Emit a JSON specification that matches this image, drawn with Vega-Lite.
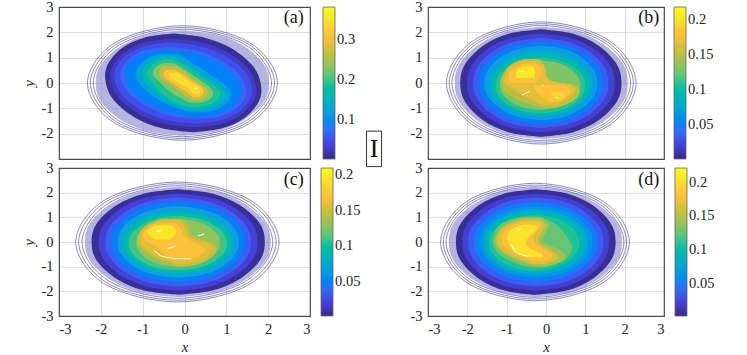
{
"$schema":"https://vega.github.io/schema/vega-lite/v6.json",
"padding":{"left":21,"top":-2,"right":0,"bottom":0},
"background":"white",
"bounds":"flush",
"columns":2,
"spacing":{"column":118,"row":9},
"resolve":{"scale":{"color":"independent"},"legend":{"color":"independent"}},
"config":{"font":"Liberation Serif","view":{"stroke":"#555","strokeWidth":1.2},
"axis":{"labelFont":"Liberation Serif","labelFontSize":14.5,"labelColor":"#222","labelPadding":6,"titleFont":"Liberation Serif","titleFontSize":15,"titleFontStyle":"italic","titleFontWeight":"normal","titleColor":"#222","titlePadding":4,"grid":true,"gridColor":"#000","gridOpacity":0.13,"gridWidth":1,"ticks":false,"domain":false,"zindex":1,"tickCount":7},
"legend":{"gradientThickness":12,"gradientStrokeColor":"#666","gradientStrokeWidth":0.8,"labelFont":"Liberation Serif","labelFontSize":14.5,"labelColor":"#222","offset":13,"padding":0,"title":null,"orient":"right","labelOffset":4}},
"datasets":{
"ra":[{"r":1,"i":0,"x":2.22,"y":0},{"r":1,"i":1,"x":1.55,"y":1.6},{"r":1,"i":2,"x":-0.05,"y":2.26},{"r":1,"i":3,"x":-1.65,"y":1.6},{"r":1,"i":4,"x":-2.32,"y":0},{"r":1,"i":5,"x":-1.65,"y":-1.6},{"r":1,"i":6,"x":-0.05,"y":-2.26},{"r":1,"i":7,"x":1.55,"y":-1.6},
{"r":2,"i":0,"x":2.15,"y":0},{"r":2,"i":1,"x":1.51,"y":1.55},{"r":2,"i":2,"x":-0.05,"y":2.19},{"r":2,"i":3,"x":-1.61,"y":1.55},{"r":2,"i":4,"x":-2.25,"y":0},{"r":2,"i":5,"x":-1.61,"y":-1.55},{"r":2,"i":6,"x":-0.05,"y":-2.19},{"r":2,"i":7,"x":1.51,"y":-1.55},
{"r":3,"i":0,"x":2.08,"y":0},{"r":3,"i":1,"x":1.46,"y":1.5},{"r":3,"i":2,"x":-0.05,"y":2.12},{"r":3,"i":3,"x":-1.56,"y":1.5},{"r":3,"i":4,"x":-2.18,"y":0},{"r":3,"i":5,"x":-1.56,"y":-1.5},{"r":3,"i":6,"x":-0.05,"y":-2.12},{"r":3,"i":7,"x":1.46,"y":-1.5}],
"rb":[{"r":1,"i":0,"x":2.29,"y":0},{"r":1,"i":1,"x":1.58,"y":1.7},{"r":1,"i":2,"x":-0.12,"y":2.41},{"r":1,"i":3,"x":-1.82,"y":1.7},{"r":1,"i":4,"x":-2.53,"y":0},{"r":1,"i":5,"x":-1.82,"y":-1.7},{"r":1,"i":6,"x":-0.12,"y":-2.41},{"r":1,"i":7,"x":1.58,"y":-1.7},
{"r":2,"i":0,"x":2.22,"y":0},{"r":2,"i":1,"x":1.53,"y":1.65},{"r":2,"i":2,"x":-0.12,"y":2.34},{"r":2,"i":3,"x":-1.77,"y":1.65},{"r":2,"i":4,"x":-2.46,"y":0},{"r":2,"i":5,"x":-1.77,"y":-1.65},{"r":2,"i":6,"x":-0.12,"y":-2.34},{"r":2,"i":7,"x":1.53,"y":-1.65},
{"r":3,"i":0,"x":2.15,"y":0},{"r":3,"i":1,"x":1.48,"y":1.6},{"r":3,"i":2,"x":-0.12,"y":2.27},{"r":3,"i":3,"x":-1.72,"y":1.6},{"r":3,"i":4,"x":-2.39,"y":0},{"r":3,"i":5,"x":-1.72,"y":-1.6},{"r":3,"i":6,"x":-0.12,"y":-2.27},{"r":3,"i":7,"x":1.48,"y":-1.6}],
"rc":[{"r":1,"i":0,"x":2.26,"y":0},{"r":1,"i":1,"x":1.55,"y":1.72},{"r":1,"i":2,"x":-0.17,"y":2.43},{"r":1,"i":3,"x":-1.89,"y":1.72},{"r":1,"i":4,"x":-2.6,"y":0},{"r":1,"i":5,"x":-1.89,"y":-1.72},{"r":1,"i":6,"x":-0.17,"y":-2.43},{"r":1,"i":7,"x":1.55,"y":-1.72},
{"r":2,"i":0,"x":2.19,"y":0},{"r":2,"i":1,"x":1.5,"y":1.67},{"r":2,"i":2,"x":-0.17,"y":2.36},{"r":2,"i":3,"x":-1.84,"y":1.67},{"r":2,"i":4,"x":-2.53,"y":0},{"r":2,"i":5,"x":-1.84,"y":-1.67},{"r":2,"i":6,"x":-0.17,"y":-2.36},{"r":2,"i":7,"x":1.5,"y":-1.67},
{"r":3,"i":0,"x":2.11,"y":0},{"r":3,"i":1,"x":1.44,"y":1.61},{"r":3,"i":2,"x":-0.17,"y":2.28},{"r":3,"i":3,"x":-1.78,"y":1.61},{"r":3,"i":4,"x":-2.45,"y":0},{"r":3,"i":5,"x":-1.78,"y":-1.61},{"r":3,"i":6,"x":-0.17,"y":-2.28},{"r":3,"i":7,"x":1.44,"y":-1.61}],
"rd":[{"r":1,"i":0,"x":2.12,"y":0},{"r":1,"i":1,"x":1.42,"y":1.68},{"r":1,"i":2,"x":-0.28,"y":2.38},{"r":1,"i":3,"x":-1.98,"y":1.68},{"r":1,"i":4,"x":-2.68,"y":0},{"r":1,"i":5,"x":-1.98,"y":-1.68},{"r":1,"i":6,"x":-0.28,"y":-2.38},{"r":1,"i":7,"x":1.42,"y":-1.68},
{"r":2,"i":0,"x":2.05,"y":0},{"r":2,"i":1,"x":1.37,"y":1.63},{"r":2,"i":2,"x":-0.28,"y":2.31},{"r":2,"i":3,"x":-1.93,"y":1.63},{"r":2,"i":4,"x":-2.61,"y":0},{"r":2,"i":5,"x":-1.93,"y":-1.63},{"r":2,"i":6,"x":-0.28,"y":-2.31},{"r":2,"i":7,"x":1.37,"y":-1.63},
{"r":3,"i":0,"x":1.98,"y":0},{"r":3,"i":1,"x":1.32,"y":1.58},{"r":3,"i":2,"x":-0.28,"y":2.24},{"r":3,"i":3,"x":-1.88,"y":1.58},{"r":3,"i":4,"x":-2.54,"y":0},{"r":3,"i":5,"x":-1.88,"y":-1.58},{"r":3,"i":6,"x":-0.28,"y":-2.24},{"r":3,"i":7,"x":1.32,"y":-1.58}],
"ha":[{"y":2.08,"a":-0.05,"b":-0.05},{"y":1.91,"a":-0.86,"b":0.76},{"y":1.46,"a":-1.52,"b":1.42},{"y":0.73,"a":-2.0,"b":1.9},{"y":0,"a":-2.12,"b":2.02},{"y":-0.73,"a":-2.0,"b":1.9},{"y":-1.46,"a":-1.52,"b":1.42},{"y":-1.91,"a":-0.86,"b":0.76},{"y":-2.08,"a":-0.05,"b":-0.05}],
"hb":[{"y":2.22,"a":-0.12,"b":-0.12},{"y":2.04,"a":-0.98,"b":0.74},{"y":1.55,"a":-1.68,"b":1.44},{"y":0.78,"a":-2.19,"b":1.95},{"y":0,"a":-2.32,"b":2.08},{"y":-0.78,"a":-2.19,"b":1.95},{"y":-1.55,"a":-1.68,"b":1.44},{"y":-2.04,"a":-0.98,"b":0.74},{"y":-2.22,"a":-0.12,"b":-0.12}],
"hc":[{"y":2.24,"a":-0.16,"b":-0.16},{"y":2.06,"a":-1.03,"b":0.71},{"y":1.57,"a":-1.74,"b":1.42},{"y":0.78,"a":-2.25,"b":1.93},{"y":0,"a":-2.38,"b":2.06},{"y":-0.78,"a":-2.25,"b":1.93},{"y":-1.57,"a":-1.74,"b":1.42},{"y":-2.06,"a":-1.03,"b":0.71},{"y":-2.24,"a":-0.16,"b":-0.16}],
"hd":[{"y":2.22,"a":-0.27,"b":-0.27},{"y":2.04,"a":-1.13,"b":0.59},{"y":1.55,"a":-1.83,"b":1.29},{"y":0.78,"a":-2.34,"b":1.8},{"y":0,"a":-2.47,"b":1.93},{"y":-0.78,"a":-2.34,"b":1.8},{"y":-1.55,"a":-1.83,"b":1.29},{"y":-2.04,"a":-1.13,"b":0.59},{"y":-2.22,"a":-0.27,"b":-0.27}],
"wa":[{"k":1,"x":0.24,"y":-0.21},{"k":1,"x":0.3,"y":-0.2}],
"wb":[{"k":1,"x":-0.64,"y":0.44},{"k":1,"x":-0.58,"y":0.47},{"k":2,"x":-0.61,"y":-0.48},{"k":2,"x":-0.42,"y":-0.33},{"k":3,"x":-0.1,"y":-0.09},{"k":3,"x":-0.06,"y":-0.09},{"k":4,"x":0.25,"y":-0.59},{"k":4,"x":0.31,"y":-0.56}],
"wc":[{"k":1,"x":-0.68,"y":0.42},{"k":1,"x":-0.55,"y":0.48},{"k":2,"x":0.32,"y":0.24},{"k":2,"x":0.48,"y":0.33},{"k":3,"x":-0.72,"y":-0.36},{"k":3,"x":-0.56,"y":-0.57},{"k":3,"x":-0.24,"y":-0.68},{"k":3,"x":0.16,"y":-0.68},{"k":4,"x":-0.4,"y":-0.26},{"k":4,"x":-0.24,"y":-0.18}],
"wd":[{"k":1,"x":-0.72,"y":0.5},{"k":1,"x":-0.64,"y":0.53},{"k":2,"x":-0.89,"y":-0.11},{"k":2,"x":-0.8,"y":-0.38},{"k":2,"x":-0.64,"y":-0.51},{"k":2,"x":-0.47,"y":-0.58}],
"a":[
{"l":0.01,"y":1.95,"a":-0.26,"b":-0.26},{"l":0.01,"y":1.79,"a":-0.96,"b":0.48},{"l":0.01,"y":1.37,"a":-1.5,"b":1.12},{"l":0.01,"y":0.68,"a":-1.85,"b":1.63},{"l":0.01,"y":0,"a":-1.88,"b":1.82},{"l":0.01,"y":-0.68,"a":-1.69,"b":1.79},{"l":0.01,"y":-1.37,"a":-1.18,"b":1.44},{"l":0.01,"y":-1.79,"a":-0.54,"b":0.9},{"l":0.01,"y":-1.95,"a":0.2,"b":0.2},
{"l":0.03,"y":1.75,"a":-0.29,"b":-0.29},{"l":0.03,"y":1.61,"a":-0.94,"b":0.4},{"l":0.03,"y":1.23,"a":-1.43,"b":1.01},{"l":0.03,"y":0.61,"a":-1.74,"b":1.5},{"l":0.03,"y":0,"a":-1.75,"b":1.69},{"l":0.03,"y":-0.61,"a":-1.56,"b":1.68},{"l":0.03,"y":-1.23,"a":-1.07,"b":1.37},{"l":0.03,"y":-1.61,"a":-0.46,"b":0.88},{"l":0.03,"y":-1.75,"a":0.23,"b":0.23},
{"l":0.05,"y":1.6,"a":-0.32,"b":-0.32},{"l":0.05,"y":1.47,"a":-0.92,"b":0.34},{"l":0.05,"y":1.12,"a":-1.38,"b":0.92},{"l":0.05,"y":0.56,"a":-1.65,"b":1.39},{"l":0.05,"y":0,"a":-1.65,"b":1.59},{"l":0.05,"y":-0.56,"a":-1.45,"b":1.59},{"l":0.05,"y":-1.12,"a":-0.98,"b":1.32},{"l":0.05,"y":-1.47,"a":-0.4,"b":0.86},{"l":0.05,"y":-1.6,"a":0.26,"b":0.26},
{"l":0.07,"y":1.42,"a":-0.37,"b":-0.37},{"l":0.07,"y":1.31,"a":-0.91,"b":0.23},{"l":0.07,"y":0.99,"a":-1.31,"b":0.77},{"l":0.07,"y":0.5,"a":-1.52,"b":1.22},{"l":0.07,"y":0,"a":-1.49,"b":1.43},{"l":0.07,"y":-0.5,"a":-1.28,"b":1.46},{"l":0.07,"y":-0.99,"a":-0.83,"b":1.25},{"l":0.07,"y":-1.31,"a":-0.29,"b":0.85},{"l":0.07,"y":-1.42,"a":0.31,"b":0.31},
{"l":0.09,"y":1.3,"a":-0.39,"b":-0.39},{"l":0.09,"y":1.2,"a":-0.89,"b":0.15},{"l":0.09,"y":0.91,"a":-1.22,"b":0.66},{"l":0.09,"y":0.46,"a":-1.41,"b":1.09},{"l":0.09,"y":0,"a":-1.36,"b":1.3},{"l":0.09,"y":-0.46,"a":-1.15,"b":1.35},{"l":0.09,"y":-0.91,"a":-0.72,"b":1.16},{"l":0.09,"y":-1.2,"a":-0.21,"b":0.83},{"l":0.09,"y":-1.3,"a":0.33,"b":0.33},
{"l":0.13,"y":1.15,"a":-0.5,"b":-0.2},{"l":0.13,"y":1.05,"a":-0.85,"b":-0.02},{"l":0.13,"y":0.6,"a":-1.15,"b":0.35},{"l":0.13,"y":0.2,"a":-1.2,"b":0.75},{"l":0.13,"y":-0.2,"a":-1.0,"b":1.1},{"l":0.13,"y":-0.6,"a":-0.7,"b":1.15},{"l":0.13,"y":-1.05,"a":-0.15,"b":0.85},{"l":0.13,"y":-1.15,"a":0.2,"b":0.5},
{"l":0.16,"y":1.03,"a":-0.5,"b":-0.25},{"l":0.16,"y":0.95,"a":-0.75,"b":-0.1},{"l":0.16,"y":0.6,"a":-1.02,"b":0.2},{"l":0.16,"y":0.2,"a":-1.05,"b":0.55},{"l":0.16,"y":-0.2,"a":-0.8,"b":0.95},{"l":0.16,"y":-0.6,"a":-0.55,"b":1.0},{"l":0.16,"y":-0.95,"a":-0.1,"b":0.75},{"l":0.16,"y":-1.05,"a":0.15,"b":0.4},
{"l":0.19,"y":0.93,"a":-0.45,"b":-0.35},{"l":0.19,"y":0.87,"a":-0.64,"b":-0.16},{"l":0.19,"y":0.6,"a":-0.88,"b":0.1},{"l":0.19,"y":0.3,"a":-0.94,"b":0.35},{"l":0.19,"y":0,"a":-0.75,"b":0.62},{"l":0.19,"y":-0.3,"a":-0.65,"b":0.88},{"l":0.19,"y":-0.6,"a":-0.4,"b":0.85},{"l":0.19,"y":-0.85,"a":-0.1,"b":0.65},{"l":0.19,"y":-0.95,"a":0.1,"b":0.35},
{"l":0.23,"y":0.78,"a":-0.5,"b":-0.25},{"l":0.23,"y":0.65,"a":-0.72,"b":-0.1},{"l":0.23,"y":0.3,"a":-0.8,"b":0.2},{"l":0.23,"y":0,"a":-0.55,"b":0.48},{"l":0.23,"y":-0.3,"a":-0.4,"b":0.72},{"l":0.23,"y":-0.6,"a":-0.1,"b":0.68},{"l":0.23,"y":-0.78,"a":0.15,"b":0.4},
{"l":0.27,"y":0.65,"a":-0.5,"b":-0.2},{"l":0.27,"y":0.5,"a":-0.62,"b":-0.02},{"l":0.27,"y":0.2,"a":-0.6,"b":0.15},{"l":0.27,"y":0,"a":-0.4,"b":0.35},{"l":0.27,"y":-0.2,"a":-0.2,"b":0.55},{"l":0.27,"y":-0.5,"a":0,"b":0.58},{"l":0.27,"y":-0.68,"a":0.2,"b":0.4},
{"l":0.31,"y":0.52,"a":-0.45,"b":-0.2},{"l":0.31,"y":0.3,"a":-0.55,"b":0},{"l":0.31,"y":0.1,"a":-0.4,"b":0.15},{"l":0.31,"y":-0.1,"a":-0.2,"b":0.4},{"l":0.31,"y":-0.35,"a":0.05,"b":0.5},{"l":0.31,"y":-0.55,"a":0.2,"b":0.38},
{"l":0.345,"y":0.4,"a":-0.35,"b":-0.15},{"l":0.345,"y":0.25,"a":-0.4,"b":-0.05},{"l":0.345,"y":0.05,"a":-0.2,"b":0.1},{"l":0.345,"y":-0.15,"a":0.05,"b":0.38},{"l":0.345,"y":-0.35,"a":0.15,"b":0.4},{"l":0.345,"y":-0.45,"a":0.25,"b":0.33}],
"b":[
{"l":0.006,"y":2.12,"a":-0.13,"b":-0.13},{"l":0.006,"y":1.95,"a":-0.93,"b":0.67},{"l":0.006,"y":1.48,"a":-1.59,"b":1.33},{"l":0.006,"y":0.74,"a":-2.06,"b":1.8},{"l":0.006,"y":0,"a":-2.18,"b":1.92},{"l":0.006,"y":-0.74,"a":-2.06,"b":1.8},{"l":0.006,"y":-1.48,"a":-1.59,"b":1.33},{"l":0.006,"y":-1.95,"a":-0.93,"b":0.67},{"l":0.006,"y":-2.12,"a":-0.13,"b":-0.13},
{"l":0.02,"y":1.95,"a":-0.13,"b":-0.13},{"l":0.02,"y":1.79,"a":-0.86,"b":0.6},{"l":0.02,"y":1.37,"a":-1.46,"b":1.2},{"l":0.02,"y":0.68,"a":-1.9,"b":1.64},{"l":0.02,"y":0,"a":-2.01,"b":1.75},{"l":0.02,"y":-0.68,"a":-1.9,"b":1.64},{"l":0.02,"y":-1.37,"a":-1.46,"b":1.2},{"l":0.02,"y":-1.79,"a":-0.86,"b":0.6},{"l":0.02,"y":-1.95,"a":-0.13,"b":-0.13},
{"l":0.035,"y":1.78,"a":-0.13,"b":-0.13},{"l":0.035,"y":1.64,"a":-0.8,"b":0.54},{"l":0.035,"y":1.25,"a":-1.35,"b":1.09},{"l":0.035,"y":0.62,"a":-1.75,"b":1.49},{"l":0.035,"y":0,"a":-1.85,"b":1.59},{"l":0.035,"y":-0.62,"a":-1.75,"b":1.49},{"l":0.035,"y":-1.25,"a":-1.35,"b":1.09},{"l":0.035,"y":-1.64,"a":-0.8,"b":0.54},{"l":0.035,"y":-1.78,"a":-0.13,"b":-0.13},
{"l":0.05,"y":1.62,"a":-0.13,"b":-0.13},{"l":0.05,"y":1.49,"a":-0.74,"b":0.48},{"l":0.05,"y":1.13,"a":-1.24,"b":0.98},{"l":0.05,"y":0.57,"a":-1.61,"b":1.35},{"l":0.05,"y":0,"a":-1.7,"b":1.44},{"l":0.05,"y":-0.57,"a":-1.61,"b":1.35},{"l":0.05,"y":-1.13,"a":-1.24,"b":0.98},{"l":0.05,"y":-1.49,"a":-0.74,"b":0.48},{"l":0.05,"y":-1.62,"a":-0.13,"b":-0.13},
{"l":0.065,"y":1.47,"a":-0.13,"b":-0.13},{"l":0.065,"y":1.35,"a":-0.69,"b":0.43},{"l":0.065,"y":1.03,"a":-1.15,"b":0.89},{"l":0.065,"y":0.51,"a":-1.48,"b":1.22},{"l":0.065,"y":0,"a":-1.57,"b":1.31},{"l":0.065,"y":-0.51,"a":-1.48,"b":1.22},{"l":0.065,"y":-1.03,"a":-1.15,"b":0.89},{"l":0.065,"y":-1.35,"a":-0.69,"b":0.43},{"l":0.065,"y":-1.47,"a":-0.13,"b":-0.13},
{"l":0.08,"y":1.3,"a":-0.13,"b":-0.13},{"l":0.08,"y":1.19,"a":-0.65,"b":0.39},{"l":0.08,"y":0.9,"a":-1.07,"b":0.81},{"l":0.08,"y":0.44,"a":-1.38,"b":1.12},{"l":0.08,"y":-0.03,"a":-1.46,"b":1.2},{"l":0.08,"y":-0.5,"a":-1.38,"b":1.12},{"l":0.08,"y":-0.96,"a":-1.07,"b":0.81},{"l":0.08,"y":-1.25,"a":-0.65,"b":0.39},{"l":0.08,"y":-1.36,"a":-0.13,"b":-0.13},
{"l":0.095,"y":1.16,"a":-0.13,"b":-0.13},{"l":0.095,"y":1.06,"a":-0.61,"b":0.35},{"l":0.095,"y":0.79,"a":-1.01,"b":0.75},{"l":0.095,"y":0.37,"a":-1.3,"b":1.04},{"l":0.095,"y":-0.06,"a":-1.37,"b":1.11},{"l":0.095,"y":-0.49,"a":-1.3,"b":1.04},{"l":0.095,"y":-0.91,"a":-1.01,"b":0.75},{"l":0.095,"y":-1.18,"a":-0.61,"b":0.35},{"l":0.095,"y":-1.28,"a":-0.13,"b":-0.13},
{"l":0.11,"y":1.0,"a":-0.14,"b":-0.14},{"l":0.11,"y":0.91,"a":-0.58,"b":0.3},{"l":0.11,"y":0.67,"a":-0.95,"b":0.67},{"l":0.11,"y":0.29,"a":-1.21,"b":0.93},{"l":0.11,"y":-0.1,"a":-1.28,"b":1.0},{"l":0.11,"y":-0.49,"a":-1.21,"b":0.93},{"l":0.11,"y":-0.87,"a":-0.95,"b":0.67},{"l":0.11,"y":-1.11,"a":-0.58,"b":0.3},{"l":0.11,"y":-1.2,"a":-0.14,"b":-0.14},
{"l":0.13,"y":0.9,"a":-0.15,"b":-0.15},{"l":0.13,"y":0.81,"a":-0.55,"b":0.25},{"l":0.13,"y":0.61,"a":-0.87,"b":0.57},{"l":0.13,"y":0.26,"a":-1.11,"b":0.81},{"l":0.13,"y":-0.08,"a":-1.17,"b":0.87},{"l":0.13,"y":-0.42,"a":-1.11,"b":0.81},{"l":0.13,"y":-0.77,"a":-0.87,"b":0.57},{"l":0.13,"y":-0.98,"a":-0.55,"b":0.25},{"l":0.13,"y":-1.06,"a":-0.15,"b":-0.15},
{"l":0.15,"y":0.95,"a":-0.55,"b":-0.2},{"l":0.15,"y":0.8,"a":-0.88,"b":-0.02},{"l":0.15,"y":0.4,"a":-1.1,"b":0.02},{"l":0.15,"y":0.03,"a":-1.17,"b":0.03},{"l":0.15,"y":-0.02,"a":-1.15,"b":0.82},{"l":0.15,"y":-0.4,"a":-1.05,"b":0.9},{"l":0.15,"y":-0.75,"a":-0.65,"b":0.72},{"l":0.15,"y":-0.98,"a":-0.1,"b":0.25},
{"l":0.165,"y":0.88,"a":-0.55,"b":-0.2},{"l":0.165,"y":0.7,"a":-0.92,"b":-0.03},{"l":0.165,"y":0.4,"a":-1.04,"b":0},{"l":0.165,"y":0.02,"a":-1.08,"b":0},{"l":0.165,"y":-0.02,"a":-1.02,"b":0.72},{"l":0.165,"y":-0.3,"a":-0.82,"b":0.78},{"l":0.165,"y":-0.6,"a":-0.45,"b":0.62},{"l":0.165,"y":-0.88,"a":-0.1,"b":0.25},
{"l":0.178,"p":1,"y":0.78,"a":-0.55,"b":-0.25},{"l":0.178,"p":1,"y":0.55,"a":-0.9,"b":-0.1},{"l":0.178,"p":1,"y":0.25,"a":-0.97,"b":-0.12},{"l":0.178,"p":1,"y":0,"a":-0.9,"b":-0.3},
{"l":0.178,"p":2,"y":-0.08,"a":-0.3,"b":0.5},{"l":0.178,"p":2,"y":-0.3,"a":-0.3,"b":0.68},{"l":0.178,"p":2,"y":-0.55,"a":-0.1,"b":0.55},{"l":0.178,"p":2,"y":-0.75,"a":0.1,"b":0.3},
{"l":0.205,"p":1,"y":0.65,"a":-0.6,"b":-0.35},{"l":0.205,"p":1,"y":0.45,"a":-0.8,"b":-0.25},{"l":0.205,"p":1,"y":0.2,"a":-0.75,"b":-0.3},
{"l":0.19,"p":2,"y":-0.35,"a":0.1,"b":0.4},{"l":0.19,"p":2,"y":-0.5,"a":0.15,"b":0.5},{"l":0.19,"p":2,"y":-0.65,"a":0.25,"b":0.4}],
"c":[
{"l":0.006,"y":2.14,"a":-0.15,"b":-0.15},{"l":0.006,"y":1.97,"a":-0.96,"b":0.66},{"l":0.006,"y":1.5,"a":-1.62,"b":1.32},{"l":0.006,"y":0.75,"a":-2.1,"b":1.8},{"l":0.006,"y":0,"a":-2.22,"b":1.92},{"l":0.006,"y":-0.75,"a":-2.1,"b":1.8},{"l":0.006,"y":-1.5,"a":-1.62,"b":1.32},{"l":0.006,"y":-1.97,"a":-0.96,"b":0.66},{"l":0.006,"y":-2.14,"a":-0.15,"b":-0.15},
{"l":0.02,"y":1.97,"a":-0.15,"b":-0.15},{"l":0.02,"y":1.81,"a":-0.89,"b":0.59},{"l":0.02,"y":1.38,"a":-1.5,"b":1.2},{"l":0.02,"y":0.69,"a":-1.94,"b":1.64},{"l":0.02,"y":0,"a":-2.05,"b":1.75},{"l":0.02,"y":-0.69,"a":-1.94,"b":1.64},{"l":0.02,"y":-1.38,"a":-1.5,"b":1.2},{"l":0.02,"y":-1.81,"a":-0.89,"b":0.59},{"l":0.02,"y":-1.97,"a":-0.15,"b":-0.15},
{"l":0.035,"y":1.8,"a":-0.15,"b":-0.15},{"l":0.035,"y":1.66,"a":-0.83,"b":0.53},{"l":0.035,"y":1.26,"a":-1.39,"b":1.09},{"l":0.035,"y":0.63,"a":-1.79,"b":1.49},{"l":0.035,"y":0,"a":-1.89,"b":1.59},{"l":0.035,"y":-0.63,"a":-1.79,"b":1.49},{"l":0.035,"y":-1.26,"a":-1.39,"b":1.09},{"l":0.035,"y":-1.66,"a":-0.83,"b":0.53},{"l":0.035,"y":-1.8,"a":-0.15,"b":-0.15},
{"l":0.05,"y":1.62,"a":-0.15,"b":-0.15},{"l":0.05,"y":1.49,"a":-0.77,"b":0.47},{"l":0.05,"y":1.13,"a":-1.27,"b":0.97},{"l":0.05,"y":0.57,"a":-1.64,"b":1.34},{"l":0.05,"y":0,"a":-1.73,"b":1.43},{"l":0.05,"y":-0.57,"a":-1.64,"b":1.34},{"l":0.05,"y":-1.13,"a":-1.27,"b":0.97},{"l":0.05,"y":-1.49,"a":-0.77,"b":0.47},{"l":0.05,"y":-1.62,"a":-0.15,"b":-0.15},
{"l":0.065,"y":1.45,"a":-0.15,"b":-0.15},{"l":0.065,"y":1.33,"a":-0.72,"b":0.42},{"l":0.065,"y":1.02,"a":-1.18,"b":0.88},{"l":0.065,"y":0.51,"a":-1.51,"b":1.21},{"l":0.065,"y":0,"a":-1.6,"b":1.3},{"l":0.065,"y":-0.51,"a":-1.51,"b":1.21},{"l":0.065,"y":-1.02,"a":-1.18,"b":0.88},{"l":0.065,"y":-1.33,"a":-0.72,"b":0.42},{"l":0.065,"y":-1.45,"a":-0.15,"b":-0.15},
{"l":0.08,"y":1.31,"a":-0.16,"b":-0.16},{"l":0.08,"y":1.2,"a":-0.69,"b":0.37},{"l":0.08,"y":0.91,"a":-1.12,"b":0.8},{"l":0.08,"y":0.45,"a":-1.43,"b":1.11},{"l":0.08,"y":-0.02,"a":-1.51,"b":1.19},{"l":0.08,"y":-0.49,"a":-1.43,"b":1.11},{"l":0.08,"y":-0.95,"a":-1.12,"b":0.8},{"l":0.08,"y":-1.24,"a":-0.69,"b":0.37},{"l":0.08,"y":-1.35,"a":-0.16,"b":-0.16},
{"l":0.095,"y":1.18,"a":-0.16,"b":-0.16},{"l":0.095,"y":1.08,"a":-0.66,"b":0.34},{"l":0.095,"y":0.81,"a":-1.06,"b":0.74},{"l":0.095,"y":0.39,"a":-1.35,"b":1.03},{"l":0.095,"y":-0.04,"a":-1.43,"b":1.11},{"l":0.095,"y":-0.47,"a":-1.35,"b":1.03},{"l":0.095,"y":-0.89,"a":-1.06,"b":0.74},{"l":0.095,"y":-1.16,"a":-0.66,"b":0.34},{"l":0.095,"y":-1.26,"a":-0.16,"b":-0.16},
{"l":0.11,"y":1.05,"a":-0.16,"b":-0.16},{"l":0.11,"y":0.96,"a":-0.62,"b":0.3},{"l":0.11,"y":0.72,"a":-0.99,"b":0.67},{"l":0.11,"y":0.34,"a":-1.26,"b":0.94},{"l":0.11,"y":-0.05,"a":-1.33,"b":1.01},{"l":0.11,"y":-0.44,"a":-1.26,"b":0.94},{"l":0.11,"y":-0.82,"a":-0.99,"b":0.67},{"l":0.11,"y":-1.06,"a":-0.62,"b":0.3},{"l":0.11,"y":-1.15,"a":-0.16,"b":-0.16},
{"l":0.13,"y":0.94,"a":-0.15,"b":-0.15},{"l":0.13,"y":0.86,"a":-0.54,"b":0.24},{"l":0.13,"y":0.65,"a":-0.86,"b":0.56},{"l":0.13,"y":0.3,"a":-1.09,"b":0.79},{"l":0.13,"y":-0.04,"a":-1.15,"b":0.85},{"l":0.13,"y":-0.38,"a":-1.09,"b":0.79},{"l":0.13,"y":-0.73,"a":-0.86,"b":0.56},{"l":0.13,"y":-0.94,"a":-0.54,"b":0.24},{"l":0.13,"y":-1.02,"a":-0.15,"b":-0.15},
{"l":0.148,"y":0.93,"a":-0.55,"b":-0.1},{"l":0.148,"y":0.75,"a":-0.9,"b":0.1},{"l":0.148,"y":0.45,"a":-1.07,"b":0.12},{"l":0.148,"y":0.2,"a":-1.13,"b":0.15},{"l":0.148,"y":0.05,"a":-1.15,"b":0.65},{"l":0.148,"y":-0.2,"a":-1.1,"b":0.8},{"l":0.148,"y":-0.55,"a":-0.85,"b":0.72},{"l":0.148,"y":-0.85,"a":-0.45,"b":0.45},{"l":0.148,"y":-0.98,"a":-0.15,"b":0.1},
{"l":0.158,"y":0.88,"a":-0.55,"b":-0.12},{"l":0.158,"y":0.7,"a":-0.85,"b":0},{"l":0.158,"y":0.4,"a":-1.02,"b":0.05},{"l":0.158,"y":0.15,"a":-1.08,"b":0.05},{"l":0.158,"y":0.05,"a":-1.08,"b":0.45},{"l":0.158,"y":-0.15,"a":-1.03,"b":0.7},{"l":0.158,"y":-0.5,"a":-0.78,"b":0.62},{"l":0.158,"y":-0.78,"a":-0.4,"b":0.38},{"l":0.158,"y":-0.9,"a":-0.15,"b":0.05},
{"l":0.172,"y":0.75,"a":-0.7,"b":-0.2},{"l":0.172,"y":0.5,"a":-0.98,"b":-0.05},{"l":0.172,"y":0.2,"a":-1.0,"b":-0.05},{"l":0.172,"y":0,"a":-0.95,"b":0.2},{"l":0.172,"y":-0.2,"a":-0.6,"b":0.5},{"l":0.172,"y":-0.45,"a":-0.55,"b":0.5},{"l":0.172,"y":-0.68,"a":-0.3,"b":0.25},
{"l":0.195,"y":0.68,"a":-0.65,"b":-0.3},{"l":0.195,"y":0.5,"a":-0.9,"b":-0.2},{"l":0.195,"y":0.3,"a":-0.9,"b":-0.2},{"l":0.195,"y":0.1,"a":-0.7,"b":-0.35}],
"d":[
{"l":0.006,"y":2.14,"a":-0.26,"b":-0.26},{"l":0.006,"y":1.97,"a":-1.05,"b":0.53},{"l":0.006,"y":1.5,"a":-1.7,"b":1.18},{"l":0.006,"y":0.75,"a":-2.17,"b":1.65},{"l":0.006,"y":0,"a":-2.29,"b":1.77},{"l":0.006,"y":-0.75,"a":-2.17,"b":1.65},{"l":0.006,"y":-1.5,"a":-1.7,"b":1.18},{"l":0.006,"y":-1.97,"a":-1.05,"b":0.53},{"l":0.006,"y":-2.14,"a":-0.26,"b":-0.26},
{"l":0.02,"y":1.97,"a":-0.26,"b":-0.26},{"l":0.02,"y":1.81,"a":-0.99,"b":0.47},{"l":0.02,"y":1.38,"a":-1.59,"b":1.07},{"l":0.02,"y":0.69,"a":-2.02,"b":1.5},{"l":0.02,"y":0,"a":-2.13,"b":1.61},{"l":0.02,"y":-0.69,"a":-2.02,"b":1.5},{"l":0.02,"y":-1.38,"a":-1.59,"b":1.07},{"l":0.02,"y":-1.81,"a":-0.99,"b":0.47},{"l":0.02,"y":-1.97,"a":-0.26,"b":-0.26},
{"l":0.035,"y":1.8,"a":-0.26,"b":-0.26},{"l":0.035,"y":1.66,"a":-0.93,"b":0.41},{"l":0.035,"y":1.26,"a":-1.48,"b":0.96},{"l":0.035,"y":0.63,"a":-1.88,"b":1.36},{"l":0.035,"y":0,"a":-1.98,"b":1.46},{"l":0.035,"y":-0.63,"a":-1.88,"b":1.36},{"l":0.035,"y":-1.26,"a":-1.48,"b":0.96},{"l":0.035,"y":-1.66,"a":-0.93,"b":0.41},{"l":0.035,"y":-1.8,"a":-0.26,"b":-0.26},
{"l":0.05,"y":1.62,"a":-0.26,"b":-0.26},{"l":0.05,"y":1.49,"a":-0.87,"b":0.35},{"l":0.05,"y":1.13,"a":-1.37,"b":0.85},{"l":0.05,"y":0.57,"a":-1.74,"b":1.22},{"l":0.05,"y":0,"a":-1.83,"b":1.31},{"l":0.05,"y":-0.57,"a":-1.74,"b":1.22},{"l":0.05,"y":-1.13,"a":-1.37,"b":0.85},{"l":0.05,"y":-1.49,"a":-0.87,"b":0.35},{"l":0.05,"y":-1.62,"a":-0.26,"b":-0.26},
{"l":0.065,"y":1.45,"a":-0.26,"b":-0.26},{"l":0.065,"y":1.33,"a":-0.82,"b":0.3},{"l":0.065,"y":1.02,"a":-1.28,"b":0.76},{"l":0.065,"y":0.51,"a":-1.61,"b":1.09},{"l":0.065,"y":0,"a":-1.7,"b":1.18},{"l":0.065,"y":-0.51,"a":-1.61,"b":1.09},{"l":0.065,"y":-1.02,"a":-1.28,"b":0.76},{"l":0.065,"y":-1.33,"a":-0.82,"b":0.3},{"l":0.065,"y":-1.45,"a":-0.26,"b":-0.26},
{"l":0.08,"y":1.33,"a":-0.27,"b":-0.27},{"l":0.08,"y":1.22,"a":-0.79,"b":0.25},{"l":0.08,"y":0.93,"a":-1.21,"b":0.67},{"l":0.08,"y":0.47,"a":-1.52,"b":0.98},{"l":0.08,"y":0,"a":-1.6,"b":1.06},{"l":0.08,"y":-0.47,"a":-1.52,"b":0.98},{"l":0.08,"y":-0.93,"a":-1.21,"b":0.67},{"l":0.08,"y":-1.22,"a":-0.79,"b":0.25},{"l":0.08,"y":-1.33,"a":-0.27,"b":-0.27},
{"l":0.095,"y":1.22,"a":-0.28,"b":-0.28},{"l":0.095,"y":1.12,"a":-0.76,"b":0.2},{"l":0.095,"y":0.85,"a":-1.16,"b":0.6},{"l":0.095,"y":0.43,"a":-1.45,"b":0.89},{"l":0.095,"y":0,"a":-1.52,"b":0.96},{"l":0.095,"y":-0.43,"a":-1.45,"b":0.89},{"l":0.095,"y":-0.85,"a":-1.16,"b":0.6},{"l":0.095,"y":-1.12,"a":-0.76,"b":0.2},{"l":0.095,"y":-1.22,"a":-0.28,"b":-0.28},
{"l":0.11,"y":1.09,"a":-0.3,"b":-0.3},{"l":0.11,"y":1.0,"a":-0.75,"b":0.15},{"l":0.11,"y":0.75,"a":-1.12,"b":0.52},{"l":0.11,"y":0.36,"a":-1.38,"b":0.78},{"l":0.11,"y":-0.03,"a":-1.45,"b":0.85},{"l":0.11,"y":-0.42,"a":-1.38,"b":0.78},{"l":0.11,"y":-0.81,"a":-1.12,"b":0.52},{"l":0.11,"y":-1.06,"a":-0.75,"b":0.15},{"l":0.11,"y":-1.15,"a":-0.3,"b":-0.3},
{"l":0.125,"y":1.02,"a":-0.6,"b":-0.2},{"l":0.125,"y":0.9,"a":-1.0,"b":0.1},{"l":0.125,"y":0.6,"a":-1.27,"b":0.35},{"l":0.125,"y":0.2,"a":-1.36,"b":0.55},{"l":0.125,"y":-0.2,"a":-1.36,"b":0.7},{"l":0.125,"y":-0.6,"a":-1.15,"b":0.6},{"l":0.125,"y":-0.9,"a":-0.75,"b":0.3},{"l":0.125,"y":-1.03,"a":-0.4,"b":-0.05},
{"l":0.145,"y":0.98,"a":-0.6,"b":-0.15},{"l":0.145,"y":0.8,"a":-0.98,"b":0.1},{"l":0.145,"y":0.5,"a":-1.22,"b":0.05},{"l":0.145,"y":0.2,"a":-1.3,"b":-0.1},{"l":0.145,"y":-0.05,"a":-1.3,"b":-0.1},{"l":0.145,"y":-0.25,"a":-1.25,"b":0.3},{"l":0.145,"y":-0.55,"a":-1.05,"b":0.55},{"l":0.145,"y":-0.8,"a":-0.7,"b":0.45},{"l":0.145,"y":-0.98,"a":-0.3,"b":0},
{"l":0.165,"y":0.92,"a":-0.6,"b":-0.2},{"l":0.165,"y":0.75,"a":-0.93,"b":0},{"l":0.165,"y":0.5,"a":-1.17,"b":-0.05},{"l":0.165,"y":0.2,"a":-1.24,"b":-0.2},{"l":0.165,"y":0,"a":-1.25,"b":-0.22},{"l":0.165,"y":-0.2,"a":-1.2,"b":-0.05},{"l":0.165,"y":-0.45,"a":-1.03,"b":0.28},{"l":0.165,"y":-0.7,"a":-0.7,"b":0.35},{"l":0.165,"y":-0.9,"a":-0.35,"b":-0.02},
{"l":0.178,"y":0.82,"a":-0.65,"b":-0.2},{"l":0.178,"y":0.6,"a":-1.0,"b":-0.1},{"l":0.178,"y":0.3,"a":-1.13,"b":-0.3},{"l":0.178,"y":0,"a":-1.13,"b":-0.35},{"l":0.178,"y":-0.2,"a":-1.08,"b":-0.15},{"l":0.178,"y":-0.45,"a":-0.85,"b":0.15},{"l":0.178,"y":-0.65,"a":-0.55,"b":0.2},{"l":0.178,"y":-0.78,"a":-0.35,"b":-0.05},
{"l":0.205,"y":0.7,"a":-0.6,"b":-0.25},{"l":0.205,"y":0.5,"a":-0.95,"b":-0.2},{"l":0.205,"y":0.2,"a":-1.0,"b":-0.45},{"l":0.205,"y":-0.05,"a":-0.95,"b":-0.55},{"l":0.205,"y":-0.3,"a":-0.9,"b":-0.4},{"l":0.205,"y":-0.5,"a":-0.65,"b":-0.05},{"l":0.205,"y":-0.62,"a":-0.45,"b":-0.1}]
},
"concat":[
{"width":251,"height":152,"layer":[
{"data":{"name":"ha"},"mark":{"type":"area","orient":"horizontal","interpolate":"cardinal","color":"#8380cc","opacity":0.6},"encoding":{"y":{"field":"y","type":"quantitative","scale":{"domain":[-3,3]},"title":"y","axis":{"values":[-3,-2,-1,0,1,2,3],"labelExpr":"datum.value==-3?'':''+datum.value"}},"x":{"field":"a","type":"quantitative","scale":{"domain":[-3,3]},"title":null,"axis":{"values":[-3,-2,-1,0,1,2,3],"labels":false}},"x2":{"field":"b"}}},
{"data":{"name":"ra"},"mark":{"type":"line","interpolate":"cardinal-closed","tension":0,"color":"#5a55b0","strokeWidth":0.7},"encoding":{"x":{"field":"x","type":"quantitative"},"y":{"field":"y","type":"quantitative"},"detail":{"field":"r"},"order":{"field":"i"}}},
{"data":{"name":"a"},"transform":[{"filter":"datum.l<=0.09"}],"mark":{"type":"area","orient":"horizontal","interpolate":"cardinal"},"encoding":{"y":{"field":"y","type":"quantitative"},"x":{"field":"a","type":"quantitative"},"x2":{"field":"b"},"detail":{"field":"l"},"color":{"field":"l","type":"quantitative","scale":{"domain":[0.0035,0.383],"range":["#352a87","#4643e2","#2f74fb","#1e9be0","#0fb4b9","#29c38f","#84c565","#c4bd3b","#fdbd3d","#f8de2e","#f9fb15"]},"legend":{"values":[0.1,0.2,0.3],"gradientLength":152,"labelExpr":"''+datum.value"}}}},
{"data":{"name":"a"},"transform":[{"filter":"datum.l>0.09"}],"mark":{"type":"area","orient":"horizontal","interpolate":"basis"},"encoding":{"y":{"field":"y","type":"quantitative"},"x":{"field":"a","type":"quantitative"},"x2":{"field":"b"},"detail":{"field":"l"},"color":{"field":"l","type":"quantitative"}}},
{"data":{"name":"wa"},"mark":{"type":"line","color":"white","strokeWidth":1},"encoding":{"x":{"field":"x","type":"quantitative"},"y":{"field":"y","type":"quantitative"},"detail":{"field":"k"}}},
{"data":{"values":[{"x":2.85,"y":2.55,"t":"(a)"}]},"mark":{"type":"text","align":"right","baseline":"middle","fontSize":18,"color":"#111"},"encoding":{"x":{"field":"x","type":"quantitative"},"y":{"field":"y","type":"quantitative"},"text":{"field":"t"}}},
{"data":{"values":[{"x":4.35,"x2":4.71,"y":-1.9,"y2":-3.3}]},"mark":{"type":"rect","fill":"white","stroke":"#333","strokeWidth":1},"encoding":{"x":{"field":"x","type":"quantitative"},"x2":{"field":"x2"},"y":{"field":"y","type":"quantitative"},"y2":{"field":"y2"}}},
{"data":{"values":[{"x":4.53,"y":-2.6,"t":"I"}]},"mark":{"type":"text","align":"center","baseline":"middle","fontSize":26,"color":"#111"},"encoding":{"x":{"field":"x","type":"quantitative"},"y":{"field":"y","type":"quantitative"},"text":{"field":"t"}}}
]},
{"width":236,"height":152,"layer":[
{"data":{"name":"hb"},"mark":{"type":"area","orient":"horizontal","interpolate":"cardinal","color":"#8380cc","opacity":0.6},"encoding":{"y":{"field":"y","type":"quantitative","scale":{"domain":[-3,3]},"title":null,"axis":{"values":[-3,-2,-1,0,1,2,3],"labelExpr":"datum.value==-3?'':''+datum.value"}},"x":{"field":"a","type":"quantitative","scale":{"domain":[-3,3]},"title":null,"axis":{"values":[-3,-2,-1,0,1,2,3],"labels":false}},"x2":{"field":"b"}}},
{"data":{"name":"rb"},"mark":{"type":"line","interpolate":"cardinal-closed","tension":0,"color":"#5a55b0","strokeWidth":0.7},"encoding":{"x":{"field":"x","type":"quantitative"},"y":{"field":"y","type":"quantitative"},"detail":{"field":"r"},"order":{"field":"i"}}},
{"data":{"name":"b"},"transform":[{"filter":"datum.l<=0.13"}],"mark":{"type":"area","orient":"horizontal","interpolate":"cardinal"},"encoding":{"y":{"field":"y","type":"quantitative"},"x":{"field":"a","type":"quantitative"},"x2":{"field":"b"},"detail":{"field":"l"},"color":{"field":"l","type":"quantitative","scale":{"domain":[0.0017,0.218],"range":["#352a87","#4643e2","#2f74fb","#1e9be0","#0fb4b9","#29c38f","#84c565","#c4bd3b","#fdbd3d","#f8de2e","#f9fb15"]},"legend":{"values":[0.05,0.1,0.15,0.2],"gradientLength":152,"offset":10,"labelExpr":"''+datum.value"}}}},
{"data":{"name":"b"},"transform":[{"filter":"datum.l>0.13"}],"mark":{"type":"area","orient":"horizontal","interpolate":"basis"},"encoding":{"y":{"field":"y","type":"quantitative"},"x":{"field":"a","type":"quantitative"},"x2":{"field":"b"},"detail":[{"field":"l"},{"field":"p"}],"color":{"field":"l","type":"quantitative"}}},
{"data":{"name":"wb"},"mark":{"type":"line","color":"white","strokeWidth":1},"encoding":{"x":{"field":"x","type":"quantitative"},"y":{"field":"y","type":"quantitative"},"detail":{"field":"k"}}},
{"data":{"values":[{"x":2.88,"y":2.55,"t":"(b)"}]},"mark":{"type":"text","align":"right","baseline":"middle","fontSize":18,"color":"#111"},"encoding":{"x":{"field":"x","type":"quantitative"},"y":{"field":"y","type":"quantitative"},"text":{"field":"t"}}}
]},
{"width":251,"height":148,"layer":[
{"data":{"name":"hc"},"mark":{"type":"area","orient":"horizontal","interpolate":"cardinal","color":"#8380cc","opacity":0.6},"encoding":{"y":{"field":"y","type":"quantitative","scale":{"domain":[-3,3]},"title":"y","axis":{"values":[-3,-2,-1,0,1,2,3],"labelExpr":"''+datum.value"}},"x":{"field":"a","type":"quantitative","scale":{"domain":[-3,3]},"title":"x","axis":{"values":[-3,-2,-1,0,1,2,3],"labelExpr":"''+datum.value"}},"x2":{"field":"b"}}},
{"data":{"name":"rc"},"mark":{"type":"line","interpolate":"cardinal-closed","tension":0,"color":"#5a55b0","strokeWidth":0.7},"encoding":{"x":{"field":"x","type":"quantitative"},"y":{"field":"y","type":"quantitative"},"detail":{"field":"r"},"order":{"field":"i"}}},
{"data":{"name":"c"},"transform":[{"filter":"datum.l<=0.13"}],"mark":{"type":"area","orient":"horizontal","interpolate":"cardinal"},"encoding":{"y":{"field":"y","type":"quantitative"},"x":{"field":"a","type":"quantitative"},"x2":{"field":"b"},"detail":{"field":"l"},"color":{"field":"l","type":"quantitative","scale":{"domain":[0.0016,0.2103],"range":["#352a87","#4643e2","#2f74fb","#1e9be0","#0fb4b9","#29c38f","#84c565","#c4bd3b","#fdbd3d","#f8de2e","#f9fb15"]},"legend":{"values":[0.05,0.1,0.15,0.2],"gradientLength":148,"offset":11,"labelExpr":"''+datum.value"}}}},
{"data":{"name":"c"},"transform":[{"filter":"datum.l>0.13"}],"mark":{"type":"area","orient":"horizontal","interpolate":"basis"},"encoding":{"y":{"field":"y","type":"quantitative"},"x":{"field":"a","type":"quantitative"},"x2":{"field":"b"},"detail":{"field":"l"},"color":{"field":"l","type":"quantitative"}}},
{"data":{"name":"wc"},"mark":{"type":"line","color":"white","strokeWidth":1},"encoding":{"x":{"field":"x","type":"quantitative"},"y":{"field":"y","type":"quantitative"},"detail":{"field":"k"}}},
{"data":{"values":[{"x":2.85,"y":2.5,"t":"(c)"}]},"mark":{"type":"text","align":"right","baseline":"middle","fontSize":18,"color":"#111"},"encoding":{"x":{"field":"x","type":"quantitative"},"y":{"field":"y","type":"quantitative"},"text":{"field":"t"}}}
]},
{"width":236,"height":148,"layer":[
{"data":{"name":"hd"},"mark":{"type":"area","orient":"horizontal","interpolate":"cardinal","color":"#8380cc","opacity":0.6},"encoding":{"y":{"field":"y","type":"quantitative","scale":{"domain":[-3,3]},"title":null,"axis":{"values":[-3,-2,-1,0,1,2,3],"labelExpr":"''+datum.value"}},"x":{"field":"a","type":"quantitative","scale":{"domain":[-3,3]},"title":"x","axis":{"values":[-3,-2,-1,0,1,2,3],"labelExpr":"''+datum.value"}},"x2":{"field":"b"}}},
{"data":{"name":"rd"},"mark":{"type":"line","interpolate":"cardinal-closed","tension":0,"color":"#5a55b0","strokeWidth":0.7},"encoding":{"x":{"field":"x","type":"quantitative"},"y":{"field":"y","type":"quantitative"},"detail":{"field":"r"},"order":{"field":"i"}}},
{"data":{"name":"d"},"transform":[{"filter":"datum.l<=0.11"}],"mark":{"type":"area","orient":"horizontal","interpolate":"cardinal"},"encoding":{"y":{"field":"y","type":"quantitative"},"x":{"field":"a","type":"quantitative"},"x2":{"field":"b"},"detail":{"field":"l"},"color":{"field":"l","type":"quantitative","scale":{"domain":[0.002,0.222],"range":["#352a87","#4643e2","#2f74fb","#1e9be0","#0fb4b9","#29c38f","#84c565","#c4bd3b","#fdbd3d","#f8de2e","#f9fb15"]},"legend":{"values":[0.05,0.1,0.15,0.2],"gradientLength":148,"offset":11,"labelExpr":"''+datum.value"}}}},
{"data":{"name":"d"},"transform":[{"filter":"datum.l>0.11"}],"mark":{"type":"area","orient":"horizontal","interpolate":"basis"},"encoding":{"y":{"field":"y","type":"quantitative"},"x":{"field":"a","type":"quantitative"},"x2":{"field":"b"},"detail":{"field":"l"},"color":{"field":"l","type":"quantitative"}}},
{"data":{"name":"wd"},"mark":{"type":"line","color":"white","strokeWidth":1},"encoding":{"x":{"field":"x","type":"quantitative"},"y":{"field":"y","type":"quantitative"},"detail":{"field":"k"}}},
{"data":{"values":[{"x":2.88,"y":2.5,"t":"(d)"}]},"mark":{"type":"text","align":"right","baseline":"middle","fontSize":18,"color":"#111"},"encoding":{"x":{"field":"x","type":"quantitative"},"y":{"field":"y","type":"quantitative"},"text":{"field":"t"}}}
]}
]
}
